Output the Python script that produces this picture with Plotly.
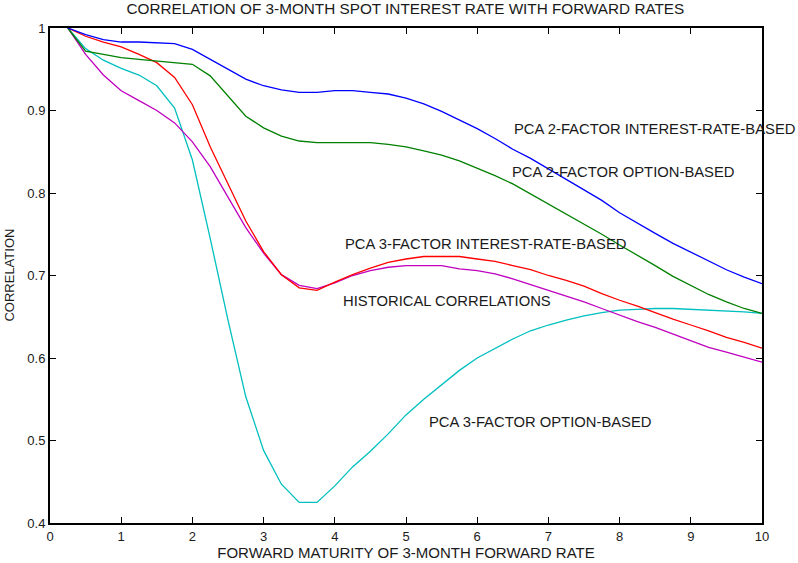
import plotly.graph_objects as go

maturity = [0.25, 0.5, 0.75, 1.0, 1.25, 1.5, 1.75, 2.0, 2.25, 2.5, 2.75, 3.0, 3.25, 3.5, 3.75, 4.0,
            4.25, 4.5, 4.75, 5.0, 5.25, 5.5, 5.75, 6.0, 6.25, 6.5, 6.75, 7.0, 7.25, 7.5, 7.75, 8.0,
            8.25, 8.5, 8.75, 9.0, 9.25, 9.5, 9.75, 10.0]

pca2_ir = [1.0, 0.992, 0.986, 0.983, 0.983, 0.982, 0.981, 0.974, 0.962, 0.950, 0.938, 0.930, 0.925,
           0.922, 0.922, 0.924, 0.924, 0.922, 0.920, 0.915, 0.908, 0.899, 0.889, 0.878, 0.866, 0.853,
           0.842, 0.829, 0.816, 0.804, 0.791, 0.776, 0.763, 0.751, 0.739, 0.728, 0.717, 0.707, 0.698, 0.690]

pca2_opt = [1.0, 0.972, 0.968, 0.964, 0.962, 0.960, 0.958, 0.956, 0.942, 0.917, 0.893, 0.879, 0.869,
            0.863, 0.861, 0.861, 0.861, 0.861, 0.859, 0.856, 0.851, 0.846, 0.839, 0.830, 0.821, 0.811,
            0.799, 0.787, 0.775, 0.762, 0.750, 0.737, 0.725, 0.712, 0.699, 0.688, 0.677, 0.668, 0.660, 0.654]

pca3_ir = [1.0, 0.990, 0.983, 0.977, 0.968, 0.958, 0.940, 0.907, 0.856, 0.810, 0.766, 0.729, 0.701,
           0.685, 0.682, 0.692, 0.701, 0.709, 0.716, 0.720, 0.723, 0.723, 0.723, 0.720, 0.717, 0.712,
           0.707, 0.700, 0.694, 0.687, 0.678, 0.670, 0.663, 0.655, 0.647, 0.640, 0.633, 0.625, 0.619, 0.612]

historical = [1.0, 0.968, 0.943, 0.924, 0.912, 0.900, 0.885, 0.862, 0.832, 0.795, 0.758, 0.727, 0.701,
              0.688, 0.684, 0.691, 0.700, 0.706, 0.710, 0.712, 0.712, 0.712, 0.708, 0.706, 0.702, 0.696,
              0.689, 0.682, 0.675, 0.668, 0.660, 0.652, 0.644, 0.637, 0.629, 0.621, 0.613, 0.607, 0.601, 0.595]

pca3_opt = [1.0, 0.975, 0.961, 0.951, 0.943, 0.930, 0.903, 0.840, 0.745, 0.646, 0.553, 0.488, 0.447,
            0.425, 0.425, 0.445, 0.468, 0.487, 0.508, 0.531, 0.550, 0.568, 0.585, 0.600, 0.612, 0.623,
            0.633, 0.640, 0.646, 0.651, 0.655, 0.658, 0.659, 0.660, 0.660, 0.659, 0.658, 0.657, 0.656, 0.654]

series = [
    ("PCA 3-FACTOR OPTION-BASED", pca3_opt, "#00BFBF"),
    ("HISTORICAL CORRELATIONS", historical, "#BF00BF"),
    ("PCA 3-FACTOR INTEREST-RATE-BASED", pca3_ir, "#FF0000"),
    ("PCA 2-FACTOR OPTION-BASED", pca2_opt, "#008000"),
    ("PCA 2-FACTOR INTEREST-RATE-BASED", pca2_ir, "#0000FF"),
]

labels = [
    ("PCA 2-FACTOR INTEREST-RATE-BASED", 6.49, 0.8776),
    ("PCA 2-FACTOR OPTION-BASED", 6.46, 0.8255),
    ("PCA 3-FACTOR INTEREST-RATE-BASED", 4.11, 0.738),
    ("HISTORICAL CORRELATIONS", 4.09, 0.669),
    ("PCA 3-FACTOR OPTION-BASED", 5.29, 0.522),
]

x_ticks = [0, 1, 2, 3, 4, 5, 6, 7, 8, 9, 10]
y_ticks = [0.4, 0.5, 0.6, 0.7, 0.8, 0.9, 1.0]
y_tick_text = ["0.4", "0.5", "0.6", "0.7", "0.8", "0.9", "1"]

fig = go.Figure()
for name, vals, color in series:
    fig.add_trace(go.Scatter(x=maturity, y=vals, mode="lines", name=name,
                             line=dict(color=color, width=1.3)))

font_family = "Liberation Sans, Arial, sans-serif"
text_color = "#1a1a1a"
for text, x, y in labels:
    fig.add_annotation(x=x, y=y, xref="x", yref="y", text=text, showarrow=False,
                       xanchor="left", yanchor="middle",
                       font=dict(family=font_family, size=14.8, color=text_color))

# y-axis title placed as a rotated annotation (sits closer to the edge than a standoff allows)
fig.add_annotation(x=-0.0575, y=0.5, xref="paper", yref="paper", text="CORRELATION",
                   showarrow=False, textangle=-90, xanchor="center", yanchor="middle",
                   font=dict(family=font_family, size=13, color=text_color))

fig.update_layout(
    width=798, height=563,
    margin=dict(l=50, r=36, t=28, b=40, autoexpand=False),
    paper_bgcolor="white", plot_bgcolor="white",
    showlegend=False,
    font=dict(family=font_family, size=13, color=text_color),
    title=dict(text="CORRELATION OF 3-MONTH SPOT INTEREST RATE WITH FORWARD RATES",
               x=0.508, xanchor="center", y=0.984, yanchor="middle",
               font=dict(family=font_family, size=15.3, color=text_color)),
)
axis_common = dict(showgrid=False, zeroline=False, showline=True, linecolor="black", linewidth=2,
                   mirror="ticks", ticks="inside", ticklen=6, tickcolor="black", tickwidth=1,
                   automargin=False,
                   tickfont=dict(family=font_family, size=13, color=text_color))
fig.update_xaxes(range=[0, 10], tickvals=x_ticks,
                 title=dict(text="FORWARD MATURITY OF 3-MONTH FORWARD RATE", standoff=2,
                            font=dict(family=font_family, size=15, color=text_color)),
                 **axis_common)
fig.update_yaxes(range=[0.4, 1.0], tickvals=y_ticks, ticktext=y_tick_text, **axis_common)

fig.write_html("out.html", config={"displayModeBar": False},
               post_script="document.body.style.margin='0';document.body.style.overflow='hidden';")
